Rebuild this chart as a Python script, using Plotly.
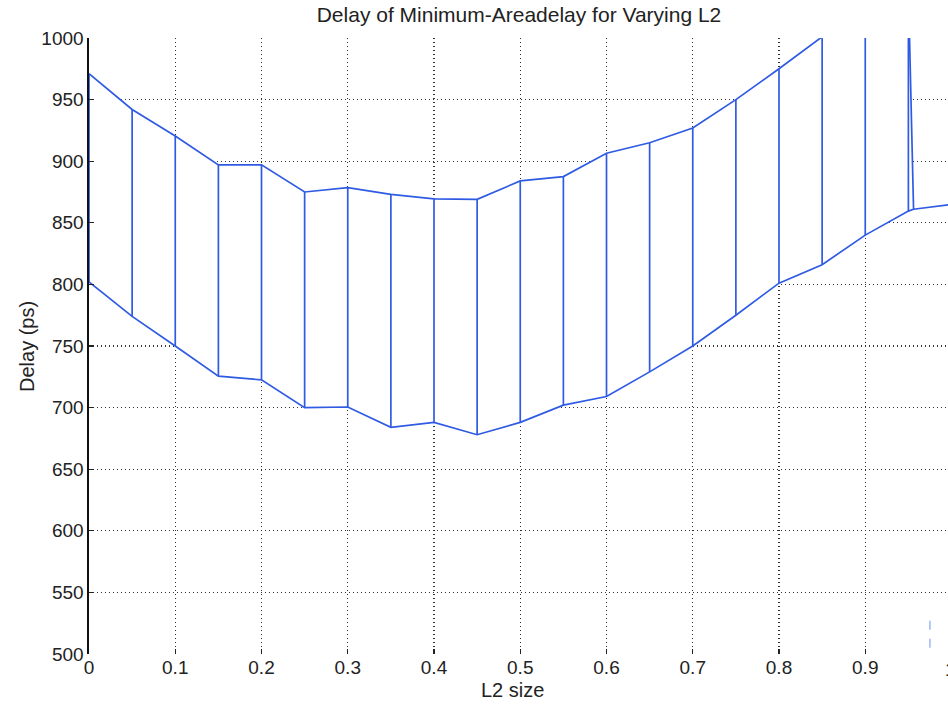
import plotly.graph_objects as go

# ---- data ----
x_vals = [0.0, 0.05, 0.1, 0.15, 0.2, 0.25, 0.3, 0.35, 0.4, 0.45,
          0.5, 0.55, 0.6, 0.65, 0.7, 0.75, 0.8, 0.85, 0.9, 0.95]
upper_delay = [971, 942, 920.5, 897, 897, 875, 878.5, 873, 869.5, 869,
               884, 887.5, 906.5, 915, 927, 950, 975, 1001, 1030, 1040]
lower_delay = [802, 774, 750, 725.5, 722.5, 700, 700.5, 684, 688, 678,
               688, 702, 709, 729, 750, 775, 801, 816, 840, 859.5]
tail_x = [0.956, 1.0]
tail_delay = [861, 865]
stray_x = [0.975, 0.975]
stray_delay = [527, 500]

x_ticks = [0, 0.1, 0.2, 0.3, 0.4, 0.5, 0.6, 0.7, 0.8, 0.9]
y_ticks = [500, 550, 600, 650, 700, 750, 800, 850, 900, 950, 1000]

BLUE = "#2f5be3"
FONT = "Liberation Sans, Arial, sans-serif"

fig = go.Figure()

# white-filled ribbon between the two curves (hides the grid behind it)
poly_x = x_vals + [tail_x[0]] + x_vals[::-1]
poly_y = lower_delay + [tail_delay[0]] + upper_delay[::-1]
fig.add_trace(go.Scatter(x=poly_x, y=poly_y, mode="lines", fill="toself",
                         fillcolor="white", line=dict(color=BLUE, width=1.7),
                         hoverinfo="skip", showlegend=False))

# vertical edges at every sample
vx, vy = [], []
for xi, lo, up in zip(x_vals, lower_delay, upper_delay):
    vx += [xi, xi, None]
    vy += [lo, up, None]
fig.add_trace(go.Scatter(x=vx, y=vy, mode="lines",
                         line=dict(color=BLUE, width=1.7),
                         hoverinfo="skip", showlegend=False))

# tail past the last sample
fig.add_trace(go.Scatter(x=tail_x, y=tail_delay, mode="lines",
                         line=dict(color=BLUE, width=1.7),
                         hoverinfo="skip", showlegend=False))

# faint stray segment near the bottom right
fig.add_trace(go.Scatter(x=stray_x, y=stray_delay, mode="lines",
                         line=dict(color="#86a6f2", width=1.2, dash="dash"),
                         hoverinfo="skip", showlegend=False))

L, T, B_PX = 89, 38, 654   # plot-area edges in screen pixels
W, H = 948, 706
plot_w_full = 862.5        # pixels spanning 0..1
x_right = (W - L) / plot_w_full
pw = W - L
ph = B_PX - T

def px_x(px):
    return (px - L) / pw

def px_y(py):
    return (B_PX - py) / ph

fig.update_layout(
    width=W, height=H,
    margin=dict(l=L, r=0, t=T, b=H - B_PX, pad=0),
    paper_bgcolor="white", plot_bgcolor="white",
    font=dict(family=FONT, size=19, color="#222222"),
    showlegend=False,
    hovermode=False,
    title=dict(text="Delay of Minimum-Areadelay for Varying L2",
               x=519 / W, xref="container", xanchor="center",
               y=(H - 15) / H, yref="container", yanchor="middle",
               font=dict(family=FONT, size=21, color="#222222")),
    xaxis=dict(range=[0, x_right], tickvals=x_ticks,
               ticktext=["0" if t == 0 else str(t) for t in x_ticks],
               showgrid=True, gridcolor="#333333", gridwidth=1.2, griddash="1px,3px",
               zeroline=False, showline=False,
               ticks="inside", ticklen=5, tickcolor="#222222", tickwidth=1.2,
               tickfont=dict(size=19, color="#222222")),
    yaxis=dict(range=[500, 1000], tickvals=y_ticks,
               showgrid=True, gridcolor="#333333", gridwidth=1.2, griddash="1px,3px",
               zeroline=False, showline=True, linecolor="#111111", linewidth=1.6,
               ticks="inside", ticklen=5, tickcolor="#222222", tickwidth=1.2,
               tickfont=dict(size=19, color="#222222")),
    annotations=[
        dict(text="L2 size", xref="paper", yref="paper",
             x=px_x(512), y=px_y(690),
             xanchor="center", yanchor="middle", showarrow=False,
             font=dict(size=20, color="#222222", family=FONT)),
        dict(text="Delay (ps)", xref="paper", yref="paper",
             x=px_x(27), y=0.5, textangle=-90,
             xanchor="center", yanchor="middle", showarrow=False,
             font=dict(size=20, color="#222222", family=FONT)),
        dict(text="1", xref="paper", yref="paper",
             x=px_x(950), y=px_y(669),
             xanchor="center", yanchor="middle", showarrow=False,
             font=dict(size=19, color="#222222", family=FONT)),
    ],
)

fig.write_html("out.html",
               config={"displayModeBar": False, "staticPlot": True},
               post_script="document.body.style.margin='0px';")
